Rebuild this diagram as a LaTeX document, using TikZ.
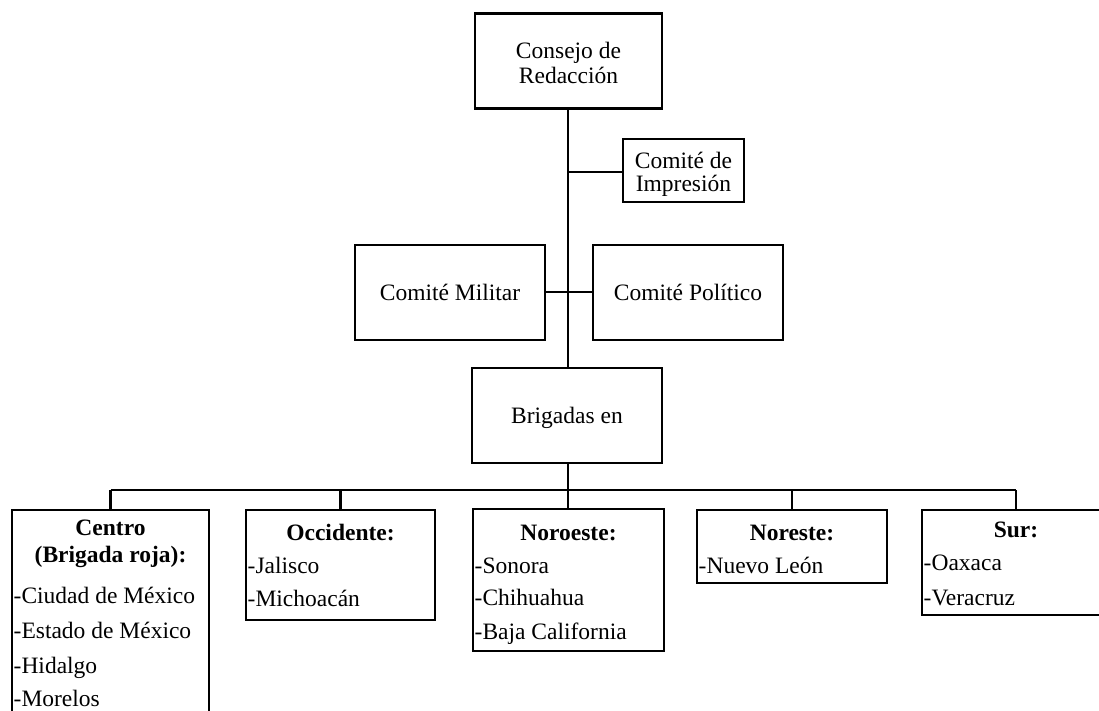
\documentclass[tikz,border=0pt]{standalone}
\usepackage{fontspec}
\setmainfont{Liberation Serif}
\begin{document}
\begin{tikzpicture}[x=1pt,y=-1pt,
  box/.style={draw,line width=2.1pt,inner sep=0pt},
  txt/.style={inner sep=0pt,font=\fontsize{23.5}{25}\selectfont},
  hd/.style={txt,anchor=base,font=\fontsize{23.5}{25}\selectfont\bfseries},
  item/.style={txt,anchor=base west},
  conn/.style={line width=2.3pt}]
\useasboundingbox (0,0) rectangle (1099,710);
% top boxes
\node[box,minimum width=187pt,minimum height=95pt] (consejo) at (568.5,61) {};
\node[txt,anchor=base] (consejoA) at (568.5,58) {Consejo de};
\node[txt,anchor=base] (consejoB) at (568.5,83) {Redacción};
\node[box,minimum width=121pt,minimum height=63pt] (imp) at (683.5,170.5) {};
\node[txt,anchor=base] (impA) at (683.5,168) {Comité de};
\node[txt,anchor=base] (impB) at (683.5,191) {Impresión};
\node[box,minimum width=190pt,minimum height=95pt] (mil) at (450,292.5) {};
\node[txt,anchor=base] (milT) at (450,300) {Comité Militar};
\node[box,minimum width=190pt,minimum height=95pt] (pol) at (688,292.5) {};
\node[txt,anchor=base] (polT) at (688,300) {Comité Político};
\node[box,minimum width=190pt,minimum height=95pt] (brig) at (567,415.5) {};
\node[txt,anchor=base] (brigT) at (567,423) {Brigadas en};
% bottom boxes
\node[box,minimum width=197pt,minimum height=220pt] (centro) at (110.5,620) {};
\node[box,minimum width=189pt,minimum height=110pt] (occ) at (340.5,565) {};
\node[box,minimum width=191pt,minimum height=142pt] (noro) at (568.5,580) {};
\node[box,minimum width=190pt,minimum height=73pt] (nore) at (792,546.5) {};
\node[box,minimum width=188pt,minimum height=105pt] (sur) at (1016,562.5) {};
% texts
\node[hd] (c1) at (110.5,535) {Centro};
\node[hd] (c2) at (110.5,562) {(Brigada roja):};
\node[item] (c3) at (13.5,603) {-Ciudad de México};
\node[item] (c4) at (13.5,638) {-Estado de México};
\node[item] (c5) at (13.5,673) {-Hidalgo};
\node[item] (c6) at (13.5,706) {-Morelos};
\node[hd] (o1) at (340.5,540) {Occidente:};
\node[item] (o2) at (247.5,573) {-Jalisco};
\node[item] (o3) at (247.5,606) {-Michoacán};
\node[hd] (n1) at (568.5,540) {Noroeste:};
\node[item] (n2) at (474.5,573) {-Sonora};
\node[item] (n3) at (474.5,605) {-Chihuahua};
\node[item] (n4) at (474.5,639) {-Baja California};
\node[hd] (e1) at (792,540) {Noreste:};
\node[item] (e2) at (698.5,573) {-Nuevo León};
\node[hd] (s1) at (1016,537) {Sur:};
\node[item] (s2) at (923.5,570) {-Oaxaca};
\node[item] (s3) at (923.5,605) {-Veracruz};
% connectors
\coordinate (jimp) at (568,172);
\coordinate (jmil) at (568,292);
\coordinate (bus) at (568,490);
\draw[conn] (consejo.south -| jimp) -- (brig.north -| jimp);
\draw[conn] (jimp) -- (jimp -| imp.west);
\draw[conn] (mil.east |- jmil) -- (pol.west |- jmil);
\draw[conn] (brig.south -| bus) -- (bus);
\draw[conn] (bus -| centro.north) -- (bus -| sur.north);
\draw[conn] (bus -| centro.north) -- (centro.north);
\draw[conn] (bus -| occ.north) -- (occ.north);
\draw[conn] (bus) -- (noro.north -| bus);
\draw[conn] (bus -| nore.north) -- (nore.north);
\draw[conn] (bus -| sur.north) -- (sur.north);
\end{tikzpicture}
\end{document}
